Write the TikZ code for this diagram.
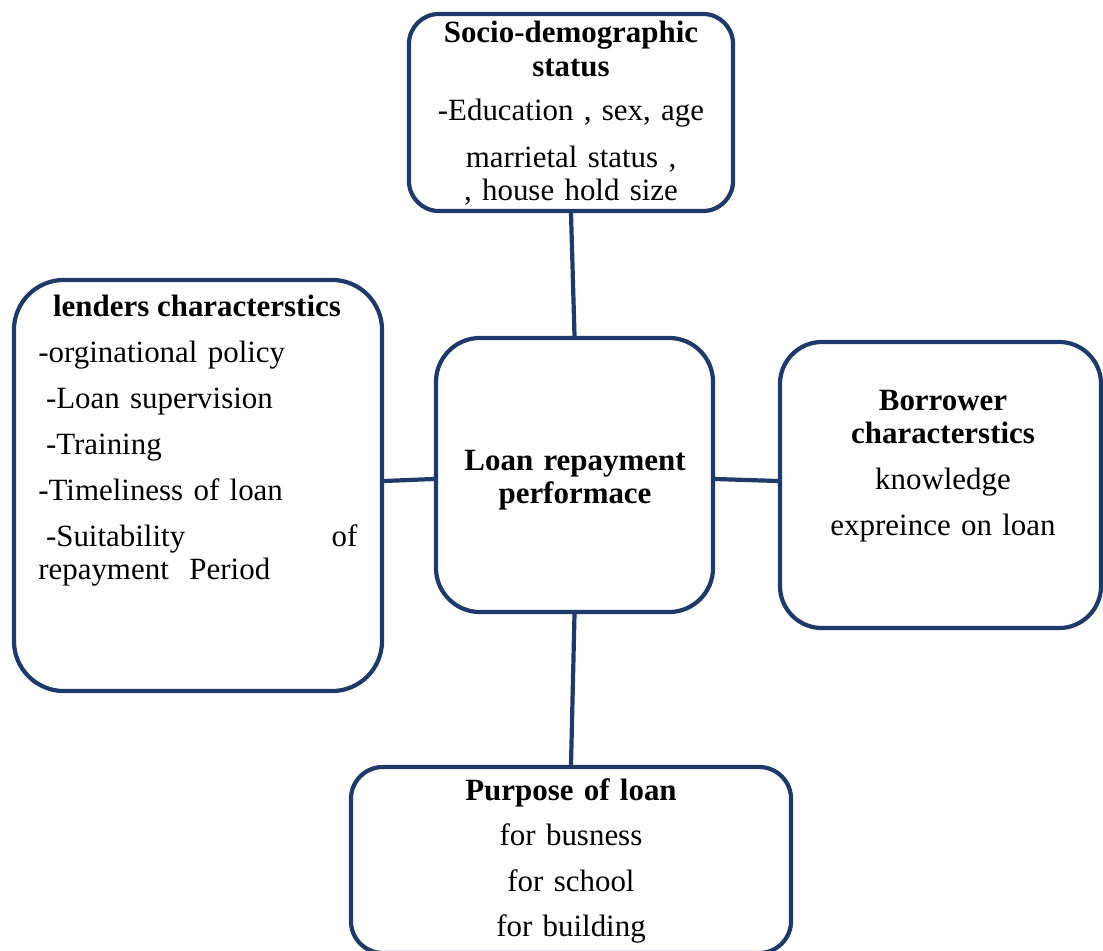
\documentclass[tikz,border=0pt]{standalone}
\usepackage{fontspec}
\setmainfont{Liberation Serif}
\usetikzlibrary{positioning,calc}
\definecolor{boxblue}{RGB}{31,58,104}

\begin{document}
\begin{tikzpicture}[x=0.025cm,y=-0.025cm,
    blk/.style={draw=boxblue,line width=0.105cm,fill=white,inner sep=0pt},
    txt/.style={inner sep=0pt,font=\fontsize{22}{23.5}\selectfont},
    link/.style={draw=boxblue,line width=0.105cm}]
\useasboundingbox (0,0) rectangle (1103,951);
\clip (0,0) rectangle (1103,951);
            % boxes
            \node[blk,minimum width=8.1cm,minimum height=4.925cm,rounded corners=0.75cm] (socio) at (571,112.5) {};
            \node[blk,minimum width=9.2cm,minimum height=10.275cm,rounded corners=1.25cm] (lend) at (198,485.5) {};
            \node[blk,minimum width=6.925cm,minimum height=6.85cm,rounded corners=1.1cm] (mid) at (574.5,475) {};
            \node[blk,minimum width=8.025cm,minimum height=7.15cm,rounded corners=1.05cm] (borr) at (940.5,485) {};
            \node[blk,minimum width=11cm,minimum height=4.65cm,rounded corners=0.8cm] (purp) at (571,860) {};
            % connectors
            \draw[link] (socio.south) -- (mid.north);
            \draw[link] (lend.east |- 0,481) -- (mid.west |- 0,479);
            \draw[link] (mid.east |- 0,479) -- (borr.west |- 0,481);
            \draw[link] (mid.south) -- (purp.north);
            % texts
            \node[txt,align=center,text width=8cm,anchor=base] (sociot) at (571,43)
                {\textbf{Socio-demographic}\\ \textbf{status}\\[7.8pt] -Education , sex, age\\[10pt] marrietal status ,\\ , house hold size};
            \node[txt,anchor=base] (lendt) at (197,317) {\textbf{lenders characterstics}};
            \node[txt,align=left,text width=7.975cm,anchor=base west] (lendl) at (38,363)
                {-orginational policy\\[9.2pt] \hspace*{5.5pt}-Loan supervision\\[9.2pt] \hspace*{5.5pt}-Training\\[9.2pt] -Timeliness of loan\\[9.2pt] \hspace*{5.5pt}-Suitability\hfill of\\ repayment\ \ Period};
            \node[txt,align=center,text width=6.5cm,anchor=base] (midt) at (575,470)
                {\textbf{Loan repayment}\\ \textbf{performace}};
            \node[txt,align=center,text width=7.5cm,anchor=base] (borrt) at (943,410)
                {\textbf{Borrower}\\ \textbf{characterstics}\\[9.2pt] knowledge\\[9.2pt] expreince on loan};
            \node[txt,align=center,text width=10cm,anchor=base] (purpt) at (571,800)
                {\textbf{Purpose of loan}\\[8.5pt] for busness\\[9.9pt] for school\\[8.5pt] for building};
\end{tikzpicture}
\end{document}
